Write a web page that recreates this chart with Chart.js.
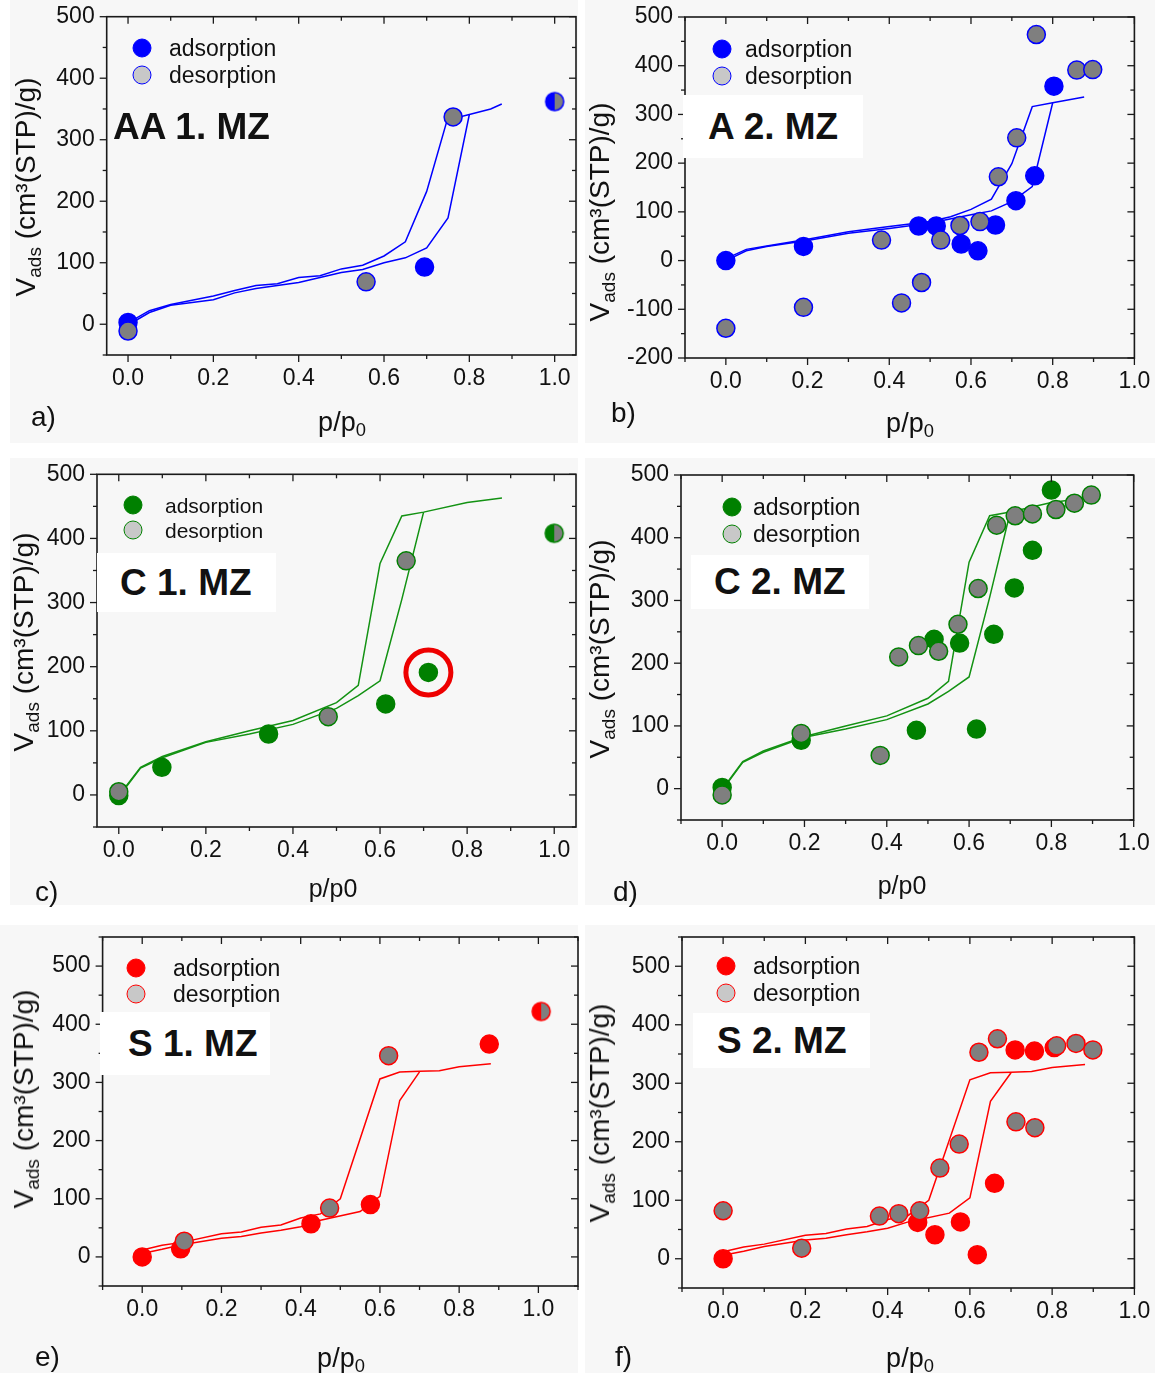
<!DOCTYPE html>
<html>
<head>
<meta charset="utf-8">
<script src="https://cdn.jsdelivr.net/npm/chart.js@4.4.1/dist/chart.umd.min.js"></script>
<style>
  body { margin: 0; width: 1163px; height: 1373px; position: relative; overflow: hidden; background: #fff;
         font-family: "Liberation Sans", Arial, sans-serif; color: #111; }
  .bg { position: absolute; background: #f7f7f7; }
  canvas { position: absolute; left: 0; top: 0; }
  .ytitle { position: absolute; transform: translate(-50%, -50%) rotate(-90deg); white-space: nowrap; font-size: 28px; line-height: 1; }
  .xtitle { position: absolute; transform: translate(-50%, -50%); white-space: nowrap; font-size: 27px; line-height: 1; }
  .tag { position: absolute; transform: translateY(-50%); font-size: 28px; line-height: 1; }
  .lab { position: absolute; background: #fff; font-weight: bold; font-size: 37px; white-space: nowrap; }
  .dot { position: absolute; width: 19px; height: 19px; border-radius: 50%; transform: translate(-50%, -50%); box-sizing: border-box; }
  .lt { position: absolute; transform: translateY(-50%); font-size: 23px; line-height: 1; white-space: nowrap; }
  sub { font-size: 0.68em; vertical-align: -0.3em; line-height: 0; }
</style>
</head>
<body>
<div class="bg" style="left:10px;top:0;width:568px;height:443px"></div>
<div class="bg" style="left:585px;top:0;width:570px;height:443px"></div>
<div class="bg" style="left:10px;top:458px;width:568px;height:447px"></div>
<div class="bg" style="left:585px;top:458px;width:570px;height:447px"></div>
<div class="bg" style="left:0;top:925px;width:578px;height:448px"></div>
<div class="bg" style="left:585px;top:925px;width:570px;height:448px"></div>

<canvas id="ca" width="1163" height="1373"></canvas>
<canvas id="cb" width="1163" height="1373"></canvas>
<canvas id="cc" width="1163" height="1373"></canvas>
<canvas id="cd" width="1163" height="1373"></canvas>
<canvas id="ce" width="1163" height="1373"></canvas>
<canvas id="cf" width="1163" height="1373"></canvas>

<!-- a -->
<div class="ytitle" style="left:26px;top:187px">V<sub>ads</sub> (cm³(STP)/g)</div>
<div class="xtitle" style="left:342px;top:422px">p/p<sub>0</sub></div>
<div class="tag" style="left:31px;top:417px">a)</div>
<div class="lab" style="left:113px;top:106px;line-height:42px;background:none">AA 1. MZ</div>
<div class="dot" style="left:142px;top:48px;background:#0000ff;border:1.5px solid #0000ff"></div>
<div class="dot" style="left:142px;top:75px;background:#c8c8c8;border:1.5px solid #0000ff"></div>
<div class="lt" style="left:169px;top:48px">adsorption</div>
<div class="lt" style="left:169px;top:75px">desorption</div>

<!-- b -->
<div class="ytitle" style="left:600px;top:212px">V<sub>ads</sub> (cm³(STP)/g)</div>
<div class="xtitle" style="left:910px;top:423px">p/p<sub>0</sub></div>
<div class="tag" style="left:611px;top:413px">b)</div>
<div class="lab" style="left:683px;top:95px;width:155px;height:63px;line-height:63px;padding-left:25px">A 2. MZ</div>
<div class="dot" style="left:722px;top:49px;background:#0000ff;border:1.5px solid #0000ff"></div>
<div class="dot" style="left:722px;top:76px;background:#c8c8c8;border:1.5px solid #0000ff"></div>
<div class="lt" style="left:745px;top:49px">adsorption</div>
<div class="lt" style="left:745px;top:76px">desorption</div>

<!-- c -->
<div class="ytitle" style="left:24px;top:642px">V<sub>ads</sub> (cm³(STP)/g)</div>
<div class="xtitle" style="left:333px;top:888px;font-size:25px">p/p0</div>
<div class="tag" style="left:35px;top:892px">c)</div>
<div class="lab" style="left:97px;top:553px;width:156px;height:59px;line-height:59px;padding-left:23px">C 1. MZ</div>
<div class="dot" style="left:133px;top:505px;background:#008000;border:1.5px solid #008000"></div>
<div class="dot" style="left:133px;top:530px;background:#c8c8c8;border:1.5px solid #008000"></div>
<div class="lt" style="left:165px;top:505px;font-size:21px">adsorption</div>
<div class="lt" style="left:165px;top:530px;font-size:21px">desorption</div>

<!-- d -->
<div class="ytitle" style="left:600px;top:649px">V<sub>ads</sub> (cm³(STP)/g)</div>
<div class="xtitle" style="left:902px;top:885px;font-size:25px">p/p0</div>
<div class="tag" style="left:613px;top:892px">d)</div>
<div class="lab" style="left:691px;top:555px;width:155px;height:54px;line-height:54px;padding-left:23px">C 2. MZ</div>
<div class="dot" style="left:732px;top:507px;background:#008000;border:1.5px solid #008000"></div>
<div class="dot" style="left:732px;top:534px;background:#c8c8c8;border:1.5px solid #008000"></div>
<div class="lt" style="left:753px;top:507px">adsorption</div>
<div class="lt" style="left:753px;top:534px">desorption</div>

<!-- e -->
<div class="ytitle" style="left:24px;top:1099px">V<sub>ads</sub> (cm³(STP)/g)</div>
<div class="xtitle" style="left:341px;top:1358px">p/p<sub>0</sub></div>
<div class="tag" style="left:35px;top:1357px">e)</div>
<div class="lab" style="left:100px;top:1012px;width:142px;height:63px;line-height:63px;padding-left:28px">S 1. MZ</div>
<div class="dot" style="left:136px;top:968px;background:#ff0000;border:1.5px solid #ff0000"></div>
<div class="dot" style="left:136px;top:994px;background:#c8c8c8;border:1.5px solid #ff0000"></div>
<div class="lt" style="left:173px;top:968px">adsorption</div>
<div class="lt" style="left:173px;top:994px">desorption</div>

<!-- f -->
<div class="ytitle" style="left:600px;top:1113px">V<sub>ads</sub> (cm³(STP)/g)</div>
<div class="xtitle" style="left:910px;top:1358px">p/p<sub>0</sub></div>
<div class="tag" style="left:615px;top:1357px">f)</div>
<div class="lab" style="left:693px;top:1013px;width:153px;height:55px;line-height:55px;padding-left:24px">S 2. MZ</div>
<div class="dot" style="left:726px;top:966px;background:#ff0000;border:1.5px solid #ff0000"></div>
<div class="dot" style="left:726px;top:993px;background:#c8c8c8;border:1.5px solid #ff0000"></div>
<div class="lt" style="left:753px;top:966px">adsorption</div>
<div class="lt" style="left:753px;top:993px">desorption</div>

<script>
// tick values
const xTicks = [0, 0.2, 0.4, 0.6, 0.8, 1.0];
const yTicksMain = [0, 100, 200, 300, 400, 500];
const yTicksB = [-200, -100, 0, 100, 200, 300, 400, 500];

// a) AA 1. MZ  -- points are [p/p0, Vads]
const aAdsorption = [[0, 3], [0.695, 93]];
const aDesorption = [[0, -11], [0.558, 69], [0.762, 337]];
const aBoth = [[1.0, 362]];
const aUpper = [[0.007, 5], [0.05, 22], [0.1, 32], [0.2, 46], [0.25, 55], [0.3, 63], [0.35, 66], [0.4, 76], [0.45, 79],
  [0.5, 90], [0.55, 96], [0.6, 111], [0.65, 134], [0.7, 216], [0.748, 332], [0.8, 341], [0.85, 350], [0.876, 358]];
const aLower = [[0.003, 0], [0.05, 19], [0.1, 31], [0.2, 40], [0.25, 51], [0.3, 58], [0.35, 63], [0.4, 68], [0.45, 76],
  [0.5, 84], [0.55, 89], [0.6, 100], [0.65, 108], [0.7, 124], [0.75, 173], [0.8, 341]];

// b) A 2. MZ
const bAdsorption = [[0, 0], [0.19, 29], [0.472, 71], [0.515, 71], [0.576, 34], [0.617, 20], [0.66, 73], [0.71, 123],
  [0.756, 174], [0.803, 358]];
const bDesorption = [[0, -139], [0.19, -96], [0.381, 42], [0.43, -87], [0.479, -45], [0.526, 42], [0.573, 72],
  [0.622, 80], [0.667, 172], [0.712, 252], [0.76, 464], [0.859, 391], [0.898, 392]];
const bUpper = [[0.003, 5], [0.05, 23], [0.1, 30], [0.2, 44], [0.3, 59], [0.4, 70], [0.5, 80], [0.55, 90], [0.6, 105],
  [0.65, 126], [0.7, 199], [0.75, 316], [0.8, 324], [0.877, 336]];
const bLower = [[0.003, 1], [0.05, 20], [0.1, 29], [0.2, 41], [0.3, 56], [0.4, 66], [0.5, 77], [0.6, 94], [0.65, 102],
  [0.7, 121], [0.75, 152], [0.8, 324]];

// c) C 1. MZ
const cAdsorption = [[0, -1], [0.099, 43], [0.344, 95], [0.613, 142], [0.711, 191]];
const cDesorption = [[0, 5], [0.481, 122], [0.66, 365]];
const cBoth = [[1.0, 408]];
const cCircled = [[0.711, 191]];

// d) C 2. MZ
const dAdsorption = [[0, 2], [0.192, 77], [0.472, 93], [0.515, 238], [0.577, 232], [0.618, 95], [0.66, 246],
  [0.71, 320], [0.754, 380], [0.8, 476]];
const dDesorption = [[0, -10], [0.192, 88], [0.384, 53], [0.429, 210], [0.477, 228], [0.526, 219], [0.573, 262],
  [0.622, 319], [0.667, 420], [0.712, 435], [0.754, 438], [0.811, 445], [0.856, 455], [0.897, 468]];

// reference isotherm for c) and d)
const cdUpper = [[0.007, 5], [0.05, 43], [0.1, 60], [0.2, 83], [0.3, 100], [0.4, 116], [0.5, 144], [0.55, 171],
  [0.6, 361], [0.65, 435], [0.7, 441], [0.8, 456], [0.88, 463]];
const cdLower = [[0.003, 0], [0.05, 42], [0.1, 58], [0.2, 82], [0.3, 95], [0.4, 110], [0.5, 135], [0.55, 155],
  [0.6, 178], [0.65, 305], [0.7, 441]];

// e) S 1. MZ
const eAdsorption = [[0, 0], [0.097, 14], [0.426, 57], [0.576, 90], [0.876, 366]];
const eDesorption = [[0.106, 27], [0.473, 84], [0.622, 346]];
const eBoth = [[1.007, 422]];

// f) S 2. MZ
const fAdsorption = [[0, 0], [0.473, 62], [0.515, 41], [0.577, 63], [0.618, 7], [0.66, 129], [0.71, 357],
  [0.757, 355], [0.805, 361]];
const fDesorption = [[0, 82], [0.191, 18], [0.38, 73], [0.427, 77], [0.478, 82], [0.527, 155], [0.574, 196],
  [0.622, 353], [0.667, 376], [0.712, 234], [0.758, 224], [0.811, 364], [0.858, 368], [0.899, 357]];

// reference isotherm for e) and f)
const efUpper = [[0, 12], [0.05, 20], [0.1, 25], [0.2, 40], [0.25, 43], [0.3, 51], [0.35, 55], [0.4, 67], [0.45, 74],
  [0.5, 100], [0.6, 306], [0.65, 318], [0.7, 319], [0.75, 320], [0.8, 327], [0.88, 332]];
const efLower = [[0, 6], [0.05, 13], [0.1, 21], [0.2, 32], [0.25, 35], [0.3, 41], [0.35, 46], [0.4, 52], [0.45, 63],
  [0.55, 78], [0.6, 104], [0.65, 269], [0.7, 318]];

const W = 1163, H = 1373;
const FONT = '"Liberation Sans", Arial, sans-serif';
const GREY = '#7f7f7f';

const pts = arr => arr.map(p => ({ x: p[0], y: p[1] }));

// half coloured / half grey marker for the points where both branches meet
function halfDot(color) {
  const r = 9, c = document.createElement('canvas');
  c.width = c.height = 22;
  const g = c.getContext('2d');
  g.fillStyle = color;
  g.beginPath(); g.arc(11, 11, r, Math.PI / 2, Math.PI * 1.5); g.fill();
  g.fillStyle = GREY;
  g.beginPath(); g.arc(11, 11, r, -Math.PI / 2, Math.PI / 2); g.fill();
  g.strokeStyle = color; g.lineWidth = 1.5;
  g.beginPath(); g.arc(11, 11, r, 0, Math.PI * 2); g.stroke();
  return c;
}

// frame box with major / minor ticks (outside on left and bottom, inside on top and right)
const framePlugin = {
  id: 'frame',
  afterDraw(chart) {
    const { ctx, chartArea: a, scales: { x, y } } = chart;
    ctx.save();
    ctx.strokeStyle = '#1a1a1a';
    ctx.lineWidth = 1.6;
    ctx.strokeRect(a.left, a.top, a.right - a.left, a.bottom - a.top);
    ctx.lineWidth = 1.3;
    const line = (x1, y1, x2, y2) => { ctx.beginPath(); ctx.moveTo(x1, y1); ctx.lineTo(x2, y2); ctx.stroke(); };
    for (let i = Math.ceil(x.min * 10 - 1e-6); i <= Math.floor(x.max * 10 + 1e-6); i++) {
      const px = x.getPixelForValue(i / 10), len = i % 2 === 0 ? 7 : 4;
      line(px, a.bottom, px, a.bottom + len);
      line(px, a.top, px, a.top + len);
    }
    for (let i = Math.ceil(y.min / 50); i <= Math.floor(y.max / 50); i++) {
      const py = y.getPixelForValue(i * 50), len = i % 2 === 0 ? 7 : 4;
      line(a.left - len, py, a.left, py);
      line(a.right - len, py, a.right, py);
    }
    ctx.restore();
  }
};

function makePanel(id, cfg) {
  const [L, T, R, B] = cfg.frame;
  const datasets = [];
  const lineDs = d => ({ data: pts(d), showLine: true, borderColor: cfg.line || cfg.color, borderWidth: 1.5,
    pointRadius: 0, fill: false, order: 3 });
  datasets.push(lineDs(cfg.upper), lineDs(cfg.lower));
  datasets.push({ data: pts(cfg.des), pointRadius: 9, pointBackgroundColor: GREY, pointBorderColor: cfg.color,
    pointBorderWidth: 1.5, order: 2 });
  datasets.push({ data: pts(cfg.ads), pointRadius: 9, pointBackgroundColor: cfg.color, pointBorderColor: cfg.color,
    pointBorderWidth: 1.5, order: 2 });
  if (cfg.both) datasets.push({ data: pts(cfg.both), pointStyle: halfDot(cfg.color), order: 2 });
  if (cfg.circled) datasets.push({ data: pts(cfg.circled), pointRadius: 22.5, pointBackgroundColor: 'rgba(0,0,0,0)',
    pointBorderColor: '#ee0000', pointBorderWidth: 5, order: 1, clip: false });

  const tickFont = { family: FONT, size: 23 };
  new Chart(document.getElementById(id), {
    type: 'scatter',
    data: { datasets },
    options: {
      responsive: false,
      animation: false,
      devicePixelRatio: 1,
      events: [],
      layout: { padding: { left: L - 80, top: T, right: W - R, bottom: H - B - 50 } },
      plugins: { legend: { display: false }, tooltip: { enabled: false } },
      scales: {
        x: {
          type: 'linear', min: cfg.x[0], max: cfg.x[1],
          afterBuildTicks: s => { s.ticks = xTicks.map(v => ({ value: v })); },
          afterFit: s => { s.height = 50; s.paddingLeft = 0; s.paddingRight = 0; },
          grid: { display: false, drawTicks: false }, border: { display: false },
          ticks: { padding: 10, font: tickFont, color: '#111', maxRotation: 0, autoSkip: false,
            callback: v => v.toFixed(1) }
        },
        y: {
          type: 'linear', min: cfg.y[0], max: cfg.y[1],
          afterBuildTicks: s => { s.ticks = cfg.yTicks.map(v => ({ value: v })); },
          afterFit: s => { s.width = 80; s.paddingTop = 0; s.paddingBottom = 0; },
          grid: { display: false, drawTicks: false }, border: { display: false },
          ticks: { padding: 12, font: tickFont, color: '#111', autoSkip: false, callback: v => String(v) }
        }
      }
    },
    plugins: [framePlugin]
  });
}

makePanel('ca', { frame: [106.7, 16.7, 576, 355], x: [-0.05, 1.05], y: [-50, 500], yTicks: yTicksMain, color: '#0000ff',
  ads: aAdsorption, des: aDesorption, both: aBoth, upper: aUpper, lower: aLower });
makePanel('cb', { frame: [685, 17, 1134.4, 358], x: [-0.1, 1.0], y: [-200, 500], yTicks: yTicksB, color: '#0000ff',
  ads: bAdsorption, des: bDesorption, upper: bUpper, lower: bLower });
makePanel('cc', { frame: [97, 474.3, 576, 827], x: [-0.05, 1.05], y: [-50, 500], yTicks: yTicksMain, color: '#008000',
  line: '#139213', ads: cAdsorption, des: cDesorption, both: cBoth, circled: cCircled, upper: cdUpper, lower: cdLower });
makePanel('cd', { frame: [681, 475, 1133.7, 820], x: [-0.1, 1.0], y: [-50, 500], yTicks: yTicksMain, color: '#008000',
  line: '#139213', ads: dAdsorption, des: dDesorption, upper: cdUpper, lower: cdLower });
makePanel('ce', { frame: [102.6, 937, 578, 1286], x: [-0.1, 1.1], y: [-50, 550], yTicks: yTicksMain, color: '#ff0000',
  ads: eAdsorption, des: eDesorption, both: eBoth, upper: efUpper, lower: efLower });
makePanel('cf', { frame: [682, 937, 1134.4, 1288], x: [-0.1, 1.0], y: [-50, 550], yTicks: yTicksMain, color: '#ff0000',
  ads: fAdsorption, des: fDesorption, upper: efUpper, lower: efLower });
</script>
</body>
</html>
